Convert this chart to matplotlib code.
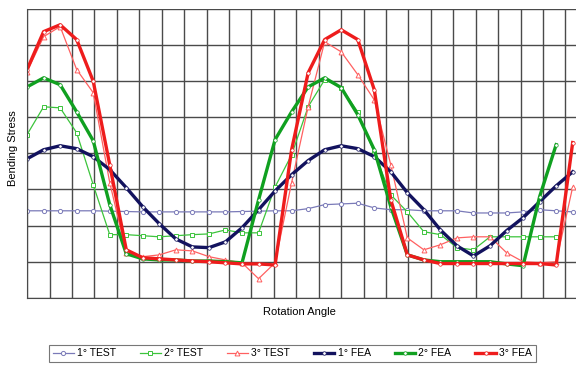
import numpy as np
import matplotlib
matplotlib.use("Agg")
import matplotlib.pyplot as plt

plt.rcParams['font.family'] = ['Liberation Sans', 'DejaVu Sans']

# rotation angle of each sample (deg)
angle = np.arange(34) * 15

# bending stress, in grid units (no scale shown on the chart)
test_1 = [2.41, 2.41, 2.41, 2.41, 2.41, 2.40, 2.39, 2.38, 2.38, 2.38, 2.38, 2.38,
          2.38, 2.39, 2.40, 2.41, 2.41, 2.47, 2.58, 2.60, 2.62, 2.49, 2.44, 2.44,
          2.41, 2.41, 2.41, 2.35, 2.35, 2.35, 2.38, 2.44, 2.41, 2.38]
test_2 = [4.52, 5.29, 5.26, 4.57, 3.13, 1.75, 1.75, 1.72, 1.69, 1.72, 1.75, 1.77,
          1.88, 1.80, 1.80, 3.07, 3.96, 5.29, 6.04, 5.82, 5.15, 4.02, 2.85, 2.38,
          1.83, 1.75, 1.39, 1.33, 1.69, 1.69, 1.69, 1.69, 1.69, np.nan]
test_3 = [6.26, 7.23, 7.51, 6.32, 5.68, 3.19, 1.25, 1.14, 1.19, 1.33, 1.30, 1.14,
          1.05, 0.97, 0.53, 0.97, 3.19, 5.29, 7.09, 6.81, 6.18, 5.48, 3.68, 1.66,
          1.33, 1.47, 1.66, 1.69, 1.69, 1.25, 1.00, 0.97, 1.00, 3.07]
fea_1 = [3.85, 4.10, 4.21, 4.13, 3.91, 3.55, 3.05, 2.52, 2.05, 1.63, 1.41, 1.39,
         1.55, 1.94, 2.44, 2.96, 3.41, 3.80, 4.10, 4.21, 4.13, 3.91, 3.49, 2.91,
         2.44, 1.88, 1.44, 1.16, 1.44, 1.86, 2.22, 2.66, 3.10, 3.49]
fea_2 = [5.84, 6.09, 5.90, 5.15, 4.35, 2.58, 1.22, 1.08, 1.05, 1.05, 1.02, 1.02,
         1.00, 0.97, 2.71, 4.38, 5.15, 5.84, 6.09, 5.82, 5.07, 4.10, 2.52, 1.19,
         1.05, 1.00, 1.00, 1.00, 1.00, 0.94, 0.89, 2.80, 4.24, np.nan]
fea_3 = [6.32, 7.37, 7.56, 7.15, 6.00, 3.68, 1.33, 1.11, 1.08, 1.05, 1.02, 1.00,
         0.97, 0.94, 0.94, 0.91, 4.10, 6.23, 7.15, 7.42, 7.15, 5.76, 2.71, 1.19,
         1.05, 0.95, 0.95, 0.95, 0.95, 0.95, 0.95, 0.95, 0.91, 4.30]

labels = ["1° TEST", "2° TEST", "3° TEST", "1° FEA", "2° FEA", "3° FEA"]

fig = plt.figure(figsize=(5.76, 3.70), dpi=100)
ax = fig.add_axes([0.047, 0.195, 0.953, 0.781])

grid_step = 20.35
for gx in np.arange(0, 500, grid_step):
    ax.axvline(gx, color='#4a4a4a', linewidth=1.0, zorder=0)
for gy in range(0, 9):
    ax.axhline(gy, color='#4a4a4a', linewidth=1.0, zorder=0)

# test results: thin lines, hollow markers
ax.plot(angle, test_1, color='#7a7ab8', linewidth=0.9, marker='o', markersize=3,
        markerfacecolor='white', markeredgewidth=0.7, label=labels[0])
ax.plot(angle, test_2, color='#3cc43c', linewidth=0.9, marker='s', markersize=3.5,
        markerfacecolor='white', markeredgewidth=0.7, label=labels[1])
ax.plot(angle, test_3, color='#ff6060', linewidth=0.9, marker='^', markersize=3.5,
        markerfacecolor='white', markeredgewidth=0.7, label=labels[2])

# FEA: thick lines
ax.plot(angle, fea_1, color='#12125e', linewidth=2.4, marker='o', markersize=2.5,
        markerfacecolor='white', markeredgewidth=0.5, label=labels[3])
ax.plot(angle, fea_2, color='#10a020', linewidth=2.4, marker='o', markersize=2.5,
        markerfacecolor='white', markeredgewidth=0.5, label=labels[4])
ax.plot(angle, fea_3, color='#ee1c1c', linewidth=2.4, marker='o', markersize=2.5,
        markerfacecolor='white', markeredgewidth=0.5, label=labels[5])

ax.set_xlim(0, 498)
ax.set_ylim(0, 8)
ax.set_xticks([])
ax.set_yticks([])
for side in ['top', 'right']:
    ax.spines[side].set_visible(False)
ax.spines['left'].set_color('#4a4a4a')
ax.spines['bottom'].set_color('#4a4a4a')

fig.text(0.022, 0.6, "Bending Stress", rotation=90, ha='center', va='center', fontsize=8)
fig.text(0.52, 0.157, "Rotation Angle", ha='center', va='center', fontsize=8)

leg = fig.legend(loc='center', bbox_to_anchor=(0.508, 0.045), ncol=6, fontsize=7.5,
                 frameon=True, fancybox=False, handlelength=2.0, handletextpad=0.3,
                 columnspacing=2.3, borderpad=0.35)
leg.get_frame().set_edgecolor('#555555')
leg.get_frame().set_linewidth(0.8)

fig.savefig("out.png", dpi=100)
